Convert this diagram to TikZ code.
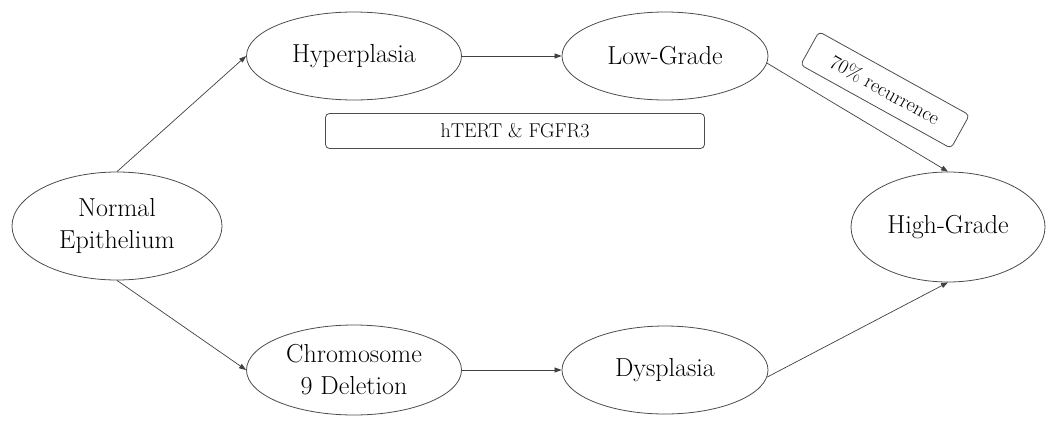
\documentclass[tikz,border=0pt]{standalone}
\usetikzlibrary{shapes.geometric,arrows.meta}
\begin{document}
\begin{tikzpicture}[x=1pt,y=-1pt,
  stage/.style={ellipse,draw=black!70,line width=0.8pt,inner sep=0pt,align=center,
    font=\fontsize{26}{32}\selectfont,text=black},
  note/.style={rectangle,rounded corners=4pt,draw=black!70,line width=0.8pt,
    font=\fontsize{20}{23}\selectfont,text=black,inner sep=0pt},
  link/.style={draw=black!75,line width=0.7pt,-{Triangle[length=7pt,width=5pt]}}]
\useasboundingbox (0,0) rectangle (1052,426);
\node[stage,minimum width=210pt,minimum height=108pt] (norm) at (117,226) {Normal\\Epithelium};
\node[stage,minimum width=215pt,minimum height=88pt] (hyp) at (354,56) {Hyperplasia};
\node[stage,minimum width=206pt,minimum height=88pt] (low) at (665,56) {Low-Grade};
\node[stage,minimum width=215pt,minimum height=90pt] (chr) at (354,370) {Chromosome\\9 Deletion};
\node[stage,minimum width=206pt,minimum height=88pt] (dys) at (665,370) {Dysplasia};
\node[stage,minimum width=194pt,minimum height=110pt] (high) at (948,227) {High-Grade};
\node[note,minimum width=379pt,minimum height=35pt] (gene) at (515,131) {hTERT \& FGFR3};
\node[note,minimum width=172pt,minimum height=38pt,rotate=-29] (rec) at (885,90) {70\% recurrence};
\draw[link] (norm.north) -- (hyp.west);
\draw[link] (norm.south) -- (chr.west);
\draw[link] (hyp.east) -- (low.west);
\draw[link] (chr.east) -- (dys.west);
\draw[link] (low.-4) -- (high.north);
\draw[link] (dys.-4) -- (high.south);
\end{tikzpicture}
\end{document}
